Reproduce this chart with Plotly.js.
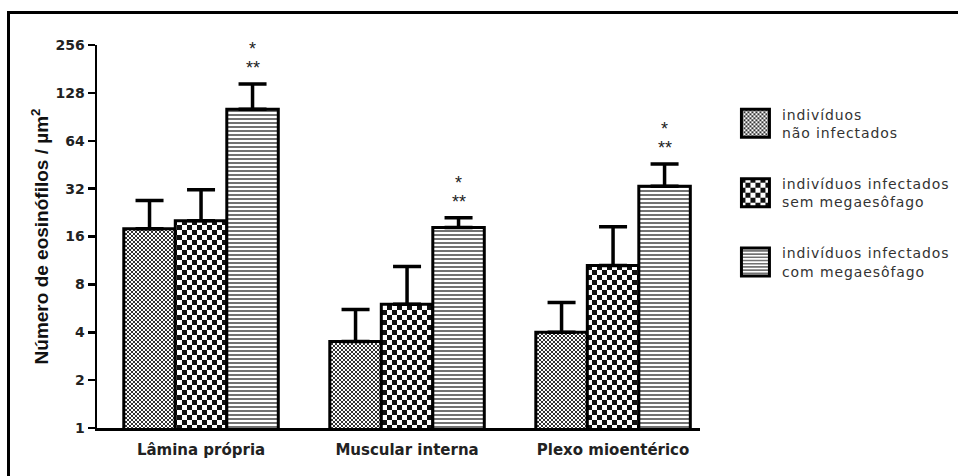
<!DOCTYPE html>
<html><head><meta charset="utf-8">
<script src="https://cdn.plot.ly/plotly-3.0.1.min.js"></script>
<style>
html,body{margin:0;padding:0;background:#fff;}
#chart{width:958px;height:476px;}
#frame{position:absolute;left:7px;top:11px;width:980px;height:480px;border-left:3px solid #000;border-top:3px solid #000;pointer-events:none;}
.legendtext{letter-spacing:0.9px;}
</style></head><body>
<div id="chart"></div><div id="frame"></div>
<script>
const categories = ['Lâmina própria', 'Muscular interna', 'Plexo mioentérico'];
const seriesNames = ['indivíduos<br>não infectados', 'indivíduos infectados<br>sem megaesôfago', 'indivíduos infectados<br>com megaesôfago'];
const naoInfectados = [17.9, 3.5, 4.0];
const naoInfectadosErr = [9.0, 2.06, 2.15];
const semMegaesofago = [20.1, 6.0, 10.5];
const semMegaesofagoErr = [11.4, 4.35, 7.9];
const comMegaesofago = [101, 18.2, 33.1];
const comMegaesofagoErr = [44.6, 2.8, 12.6];
const sigTop = ['*', '*', '*'];
const sigBottom = ['**', '**', '**'];
const yTickVals = [1, 2, 4, 8, 16, 32, 64, 128, 256];
const yTickText = ['1', '2', '4', '8', '16', '32', '64', '128', '256'];

const zeros = n => new Array(n).fill(0);
function mkTrace(i, vals, errs, pattern) {
  return {
    type: 'bar', x: categories, y: vals, name: seriesNames[i], legendgroup: 'g' + i,
    marker: {color: '#fff', line: {color: '#000', width: 3}, pattern: pattern},
    error_y: {type: 'data', symmetric: false, array: errs, arrayminus: zeros(vals.length),
      color: '#000', thickness: 3.5, width: 14},
    hoverinfo: 'skip'
  };
}
const data = [
  mkTrace(0, naoInfectados, naoInfectadosErr, {shape: '+', size: 4, solidity: 0.5, fgcolor: '#333', bgcolor: '#fff'}),
  mkTrace(1, semMegaesofago, semMegaesofagoErr, {shape: 'x', size: 10, solidity: 0.5, fgcolor: '#111', bgcolor: '#fff'}),
  mkTrace(2, comMegaesofago, comMegaesofagoErr, {shape: '-', size: 4, solidity: 0.38, fgcolor: '#444', bgcolor: '#fff'})
];

const starFont = {family: 'Liberation Sans, Arial', size: 18, color: '#222'};
const annotations = [];
categories.forEach((c, i) => {
  const yCap = Math.log10(comMegaesofago[i] + comMegaesofagoErr[i]);
  annotations.push({x: i + 0.25, xref: 'x', y: yCap, yref: 'y', text: sigBottom[i], showarrow: false,
    yanchor: 'bottom', yshift: 4, font: starFont});
  annotations.push({x: i + 0.25, xref: 'x', y: yCap, yref: 'y', text: sigTop[i], showarrow: false,
    yanchor: 'bottom', yshift: 23, font: starFont});
});

const layout = {
  width: 958, height: 476,
  margin: {l: 97, r: 258, t: 45, b: 48, autoexpand: false},
  paper_bgcolor: '#fff', plot_bgcolor: '#fff',
  barmode: 'group', bargap: 0.25, bargroupgap: 0,
  showlegend: true,
  legend: {x: 1.048, y: 0.86, xanchor: 'left', yanchor: 'top', itemwidth: 43, tracegroupgap: 30,
    font: {family: 'DejaVu Sans', size: 14, color: '#333'}, bgcolor: 'rgba(0,0,0,0)'},
  xaxis: {
    type: 'category', range: [-0.505, 2.422], showline: true, linewidth: 2.5, linecolor: '#000',
    ticks: '', showgrid: false, zeroline: false, ticklabelstandoff: 6,
    tickfont: {family: 'DejaVu Sans', size: 15, weight: 'bold', color: '#222'}
  },
  yaxis: {
    type: 'log', range: [0, Math.log10(256)], tickvals: yTickVals, ticktext: yTickText,
    ticks: 'outside', ticklen: 7, tickwidth: 2.5, tickcolor: '#000',
    showline: true, linewidth: 2.5, linecolor: '#000', showgrid: false, zeroline: false,
    tickfont: {family: 'DejaVu Sans', size: 14, weight: 'bold', color: '#222'},
    title: {text: 'Número de eosinófilos / µm<sup>2</sup>', standoff: 2,
      font: {family: 'Liberation Sans, Arial', size: 19, weight: 'bold', color: '#111'}}
  },
  annotations: annotations
};

const gd = document.getElementById('chart');
const SVGNS = 'http://www.w3.org/2000/svg';
function fillId(el) {
  const f = (el.style && el.style.fill) || el.getAttribute('fill') || '';
  const m = f.match(/#([^'")]+)/);
  return m ? m[1] : null;
}
function checker(id, s, color) {
  const p = id && document.getElementById(id);
  if (!p) return;
  while (p.firstChild) p.removeChild(p.firstChild);
  p.removeAttribute('patternTransform');
  p.setAttribute('width', 2 * s); p.setAttribute('height', 2 * s);
  const add = (x, y, w, h, c) => {
    const r = document.createElementNS(SVGNS, 'rect');
    r.setAttribute('x', x); r.setAttribute('y', y); r.setAttribute('width', w); r.setAttribute('height', h);
    r.setAttribute('fill', c); p.appendChild(r);
  };
  add(0, 0, 2 * s, 2 * s, '#fff');
  add(0, 0, s, s, color);
  add(s, s, s, s, color);
}
const checks = [[2, '#333'], [5, '#111'], null];
Plotly.newPlot(gd, data, layout, {staticPlot: true}).then(() => {
  const traces = gd.querySelectorAll('.barlayer .trace');
  traces.forEach((t, i) => {
    if (!checks[i]) return;
    const ids = new Set();
    t.querySelectorAll('path').forEach(p => { const id = fillId(p); if (id) ids.add(id); });
    ids.forEach(id => checker(id, checks[i][0], checks[i][1]));
  });
  const leg = gd.querySelectorAll('.legend .traces');
  leg.forEach((t, i) => {
    t.querySelectorAll('.legendpoints path').forEach(p => {
      p.setAttribute('d', 'M14,14H-14V-14H14Z');
      p.style.strokeWidth = '3px';
      p.style.stroke = '#000';
      if (checks[i]) checker(fillId(p), checks[i][0], checks[i][1]);
    });
  });
});
</script>
</body></html>
